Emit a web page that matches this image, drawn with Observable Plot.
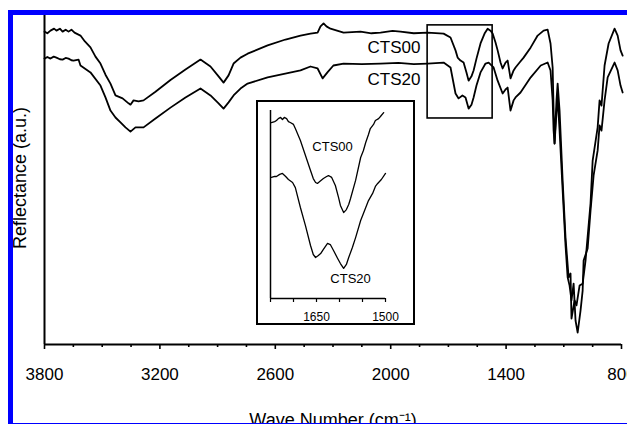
<!DOCTYPE html>
<html>
<head>
<meta charset="utf-8">
<script src="https://cdn.jsdelivr.net/npm/d3@7"></script>
<script src="https://cdn.jsdelivr.net/npm/@observablehq/plot@0.6"></script>
<style>
  html, body { margin: 0; padding: 0; background: white; overflow: hidden; width: 627px; height: 424px; }
  #frame { position: absolute; left: 8px; top: 10px; width: 700px; height: 408px;
           border-left: 5px solid #0000ff; border-top: 5px solid #0000ff; border-bottom: 1px solid #0000ff;
           overflow: hidden; background: white; }
  #main { position: absolute; left: 0; top: 0; }
  #inset { position: absolute; left: 243px; top: 85px; width: 159px; height: 225px;
           box-sizing: border-box; border: 2px solid black; background: white; }
</style>
</head>
<body>
<div id="frame">
  <div id="main"></div>
  <div id="inset"></div>
</div>
<script>
// ---- Main spectrum data (wavenumber in cm-1, reflectance in a.u.) ----
const cts00Wn = [3800,3785,3769,3750,3738,3720,3706,3690,3675,3660,3644,3613,3590,3561,3535,3509,3483,3457,3431,3394,3363,3353,3337,3311,3285,3223,3145,3067,2989,2937,2895,2869,2843,2817,2781,2744,2640,2547,2469,2417,2380,2365,2349,2334,2313,2245,2157,2100,2053,1990,1949,1880,1808,1725,1689,1663,1652,1637,1621,1606,1595,1580,1569,1554,1533,1512,1496,1481,1470,1455,1444,1429,1418,1403,1392,1377,1361,1351,1330,1309,1272,1236,1205,1184,1169,1158,1153,1148,1138,1132,1122,1106,1091,1075,1065,1060,1044,1034,1018,1002,987,961,950,924,914,904,888,867,836,820,805,794];
const cts00R  = [95.1,94.6,95.4,96.0,95.4,96.0,95.1,95.7,95.1,95.7,94.8,93.9,92.1,90.3,87.5,85.4,82.0,79.3,75.7,74.8,73.3,72.9,74.2,73.9,74.2,76.8,80.4,83.6,86.6,84.5,81.5,79.6,81.8,85.4,87.2,88.4,90.9,92.7,93.9,94.5,94.8,96.7,97.6,96.7,96.0,94.8,95.1,94.6,94.8,95.3,95.1,94.6,94.8,94.5,93.3,89.4,87.2,86.3,85.7,82.7,80.2,81.5,83.3,86.9,91.5,94.5,96.0,95.4,94.5,91.8,89.4,85.7,83.9,85.7,86.3,80.9,83.3,84.2,85.7,87.2,90.3,93.9,95.4,95.7,91.5,84.2,71.1,61.1,74.2,79.3,71.1,49.8,32.5,20.4,21.6,7.9,13.4,11.9,17.9,18.5,25.5,42.9,55.9,66.0,74.2,72.6,84.8,91.5,96.0,93.9,89.4,87.8];

const cts20Wn = [3800,3785,3769,3752,3738,3720,3706,3690,3675,3660,3649,3623,3613,3561,3509,3483,3457,3431,3405,3379,3353,3327,3285,3223,3145,3067,2989,2937,2895,2869,2843,2817,2781,2744,2640,2469,2417,2380,2354,2329,2298,2245,2150,2053,1960,1880,1808,1725,1689,1663,1647,1627,1611,1595,1580,1569,1554,1533,1507,1491,1465,1444,1418,1403,1392,1377,1361,1351,1325,1272,1220,1184,1169,1158,1153,1148,1138,1132,1122,1106,1091,1080,1070,1060,1049,1039,1028,1013,1002,997,976,961,945,924,914,904,888,872,836,820,805,794];
const cts20R  = [86.9,87.4,86.9,87.5,87.2,86.7,86.6,87.1,86.9,86.4,86.3,86.6,84.8,82.7,78.7,75.1,71.1,69.0,67.5,66.0,64.7,66.0,66.0,68.7,72.0,75.1,77.8,75.7,73.3,71.7,73.6,75.7,77.8,79.3,81.2,83.3,84.5,83.9,80.9,82.7,84.8,85.4,85.2,85.4,85.6,85.2,85.4,85.7,84.2,76.3,74.8,75.7,75.1,71.7,72.9,75.1,78.7,82.7,85.4,85.7,84.2,80.2,76.3,77.5,78.1,71.1,74.2,75.1,76.6,81.2,84.8,85.7,83.3,74.2,65.0,61.1,70.5,75.1,65.0,46.8,30.1,20.4,17.9,13.4,18.5,7.3,3.6,10.3,16.4,25.5,29.2,40.7,51.4,59.0,66.6,65.0,74.2,81.2,85.7,83.3,78.7,76.6];

// ---- Inset data (1750–1500 cm-1) ----
const insetCts00Wn = [1748,1741,1737,1733,1728,1724,1720,1715,1711,1707,1700,1696,1685,1674,1663,1657,1652,1648,1643,1635,1628,1624,1617,1609,1602,1598,1591,1585,1580,1576,1565,1554,1548,1543,1537,1533,1526,1522,1515,1511,1504];
const insetCts00R  = [93.6,94.1,94.7,95.7,96.3,95.2,96.3,95.7,94.1,93.6,92.6,90.4,84.0,76.1,68.1,63.8,61.7,61.2,62.2,63.8,64.9,65.4,64.4,60.1,53.7,49.5,45.7,47.3,50.0,53.2,62.8,75.0,78.7,83.0,87.2,90.4,92.6,94.7,95.7,96.8,98.9];
const insetCts20Wn = [1748,1741,1737,1730,1724,1717,1711,1702,1696,1685,1674,1663,1657,1652,1646,1641,1635,1626,1620,1613,1604,1598,1591,1585,1580,1572,1565,1554,1548,1537,1528,1522,1517,1509,1500];
const insetCts20R  = [64.4,64.9,64.9,66.0,66.5,64.9,63.3,61.7,59.0,48.4,38.8,28.2,23.4,21.8,22.9,23.9,26.1,29.3,28.7,25.5,21.3,18.6,16.0,18.1,21.8,27.1,32.4,41.5,45.2,52.1,55.9,59.6,61.2,63.3,66.5];

// ---- Ticks and labels ----
const xTicksMajor = [3800, 3200, 2600, 2000, 1400, 800];
const xTicksMinor = [3650, 3500, 3350, 3050, 2900, 2750, 2450, 2300, 2150, 1850, 1700, 1550, 1250, 1100, 950];
const insetTicks = [1750, 1700, 1650, 1600, 1550, 1500];
const insetTickLabels = [1650, 1500];
const seriesNames = ["CTS00", "CTS20"];
const mainLabelWn = [1845, 1845];
const mainLabelR = [90.3, 80.5];
const insetLabelWn = [1615, 1576];
const insetLabelR = [80.9, 10.6];
const zoomBoxWn = [1808, 1470];
const zoomBoxR = [68.7, 97.0];

const toRows = (name, wn, r) => wn.map((w, i) => ({series: name, wn: w, r: r[i]}));
const mainRows = [...toRows("CTS00", cts00Wn, cts00R), ...toRows("CTS20", cts20Wn, cts20R)];
const insetRows = [...toRows("CTS00", insetCts00Wn, insetCts00R), ...toRows("CTS20", insetCts20Wn, insetCts20R)];
const mainLabels = seriesNames.map((s, i) => ({text: s, wn: mainLabelWn[i], r: mainLabelR[i]}));
const insetLabels = seriesNames.map((s, i) => ({text: s, wn: insetLabelWn[i], r: insetLabelR[i]}));
const zoomBox = [{x1: zoomBoxWn[0], x2: zoomBoxWn[1], y1: zoomBoxR[0], y2: zoomBoxR[1]}];

const font = "'Liberation Sans', Arial, Helvetica, sans-serif";

const main = Plot.plot({
  width: 614, height: 408,
  marginLeft: 31, marginRight: 6, marginTop: 0, marginBottom: 79,
  x: {domain: [3800, 800]},
  y: {domain: [0, 100], axis: null},
  style: {fontFamily: font, fontSize: "17px", background: "white", color: "black"},
  marks: [
    Plot.axisX(xTicksMinor, {tickSize: 3, tickFormat: () => "", strokeWidth: 1.6, label: null}),
    Plot.axisX(xTicksMajor, {tickSize: 5, tickPadding: 18, tickFormat: d => String(d), fontSize: 17, strokeWidth: 1.6, label: null}),
    Plot.ruleY([0], {strokeWidth: 2}),
    Plot.ruleX([3800], {strokeWidth: 2}),
    Plot.rect(zoomBox, {x1: "x1", x2: "x2", y1: "y1", y2: "y2", fill: "none", stroke: "black", strokeWidth: 1.6}),
    Plot.line(mainRows, {x: "wn", y: "r", z: "series", stroke: "black", strokeWidth: 1.8}),
    Plot.text(mainLabels, {x: "wn", y: "r", text: "text", textAnchor: "end", fontSize: 17}),
    Plot.text(["Reflectance (a.u.)"], {frameAnchor: "left", textAnchor: "middle", rotate: -90, dx: -24.5, dy: -2, fontSize: 18}),
    Plot.text(["Wave Number (cm\u207B\u00B9)"], {frameAnchor: "bottom", textAnchor: "middle", lineAnchor: "top", dy: 69, fontSize: 18})
  ]
});
document.getElementById("main").append(main);

const inset = Plot.plot({
  width: 155, height: 221,
  marginLeft: 12, marginRight: 28, marginTop: 8, marginBottom: 25,
  x: {domain: [1750, 1500]},
  y: {domain: [0, 100], axis: null},
  style: {fontFamily: font, fontSize: "12px", background: "white", color: "black"},
  marks: [
    Plot.axisX(insetTicks, {tickSize: 4, tickFormat: d => insetTickLabels.includes(d) ? String(d) : "", tickPadding: 10, fontSize: 12, strokeWidth: 1.2, label: null}),
    Plot.ruleY([0], {strokeWidth: 1.5}),
    Plot.ruleX([1750], {strokeWidth: 1.5}),
    Plot.line(insetRows, {x: "wn", y: "r", z: "series", stroke: "black", strokeWidth: 1.3}),
    Plot.text(insetLabels, {x: "wn", y: "r", text: "text", fontSize: 13})
  ]
});
document.getElementById("inset").append(inset);
</script>
</body>
</html>
